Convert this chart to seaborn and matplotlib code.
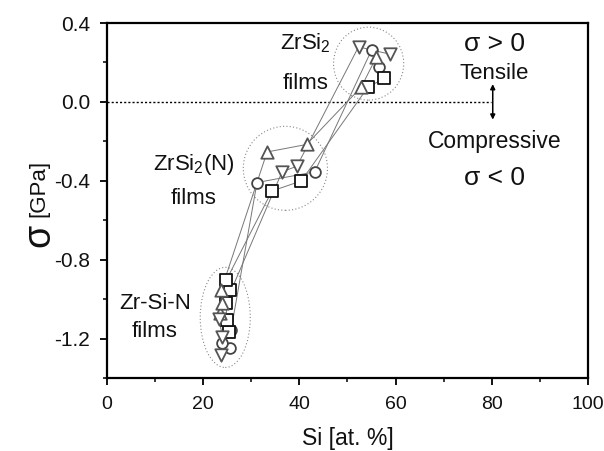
import matplotlib
matplotlib.use("Agg")
import matplotlib.pyplot as plt
import seaborn as sns
import pandas as pd
from matplotlib.patches import Ellipse

# ---- data ----
circle_x = [25.5, 23.9, 25.8, 31.2, 43.2, 55.0, 56.5]
circle_y = [-1.247, -1.223, -1.159, -0.409, -0.355, 0.262, 0.178]

square_x = [25.3, 24.9, 24.8, 25.6, 24.8, 34.3, 40.4, 54.3, 57.7]
square_y = [-1.168, -1.105, -1.020, -0.956, -0.905, -0.452, -0.401, 0.076, 0.119]

uptri_x = [23.6, 24.0, 23.8, 33.3, 41.5, 52.9, 56.0]
uptri_y = [-1.07, -1.02, -0.952, -0.254, -0.216, 0.076, 0.227]

dntri_x = [23.7, 24.0, 23.3, 36.4, 39.5, 52.3, 58.8]
dntri_y = [-1.286, -1.19, -1.10, -0.355, -0.326, 0.279, 0.242]

x_ticks = [0, 20, 40, 60, 80, 100]
y_ticks = [-1.2, -0.8, -0.4, 0.0, 0.4]
y_tick_labels = ["-1.2", "-0.8", "-0.4", "0.0", "0.4"]

sns.set_style("ticks")
plt.rcParams["font.family"] = ["Liberation Sans", "DejaVu Sans"]

fig = plt.figure(figsize=(6.04, 4.51), dpi=100)
ax = fig.add_axes([0.177, 0.162, 0.7965, 0.787])

series = [
    (circle_x, circle_y, "o", "#444444", 60),
    (square_x, square_y, "s", "#111111", 70),
    (uptri_x, uptri_y, "^", "#555555", 80),
    (dntri_x, dntri_y, "v", "#555555", 80),
]

for xs, ys, m, c, s in series:
    df = pd.DataFrame({"x": xs, "y": ys})
    sns.lineplot(data=df, x="x", y="y", sort=False, estimator=None,
                 color="#777777", lw=0.7, ax=ax, zorder=2)
for xs, ys, m, c, s in series:
    df = pd.DataFrame({"x": xs, "y": ys})
    sns.scatterplot(data=df, x="x", y="y", marker=m, s=s, facecolor="white",
                    edgecolor=c, linewidth=1.3, ax=ax, zorder=3)

# dotted ellipses
for cx, cy, w, h in [(24.6, -1.093, 10.4, 0.508),
                     (37.1, -0.337, 17.5, 0.426),
                     (54.4, 0.194, 14.6, 0.37)]:
    ax.add_patch(Ellipse((cx, cy), w, h, fill=False, ls=(0, (1, 2)),
                         lw=0.8, edgecolor="#888888", zorder=1))

# zero line
ax.plot([0, 79.8], [0, 0], ls=(0, (1.5, 1.5)), color="black", lw=1.0, zorder=1)
ax.annotate("", xy=(80.2, -0.09), xytext=(80.2, 0.09),
            arrowprops=dict(arrowstyle="<|-|>", lw=1.1, color="black",
                            mutation_scale=7, shrinkA=0, shrinkB=0))

# annotations
tc = "#111111"
ax.text(80.6, 0.295, "σ > 0", ha="center", va="center", fontsize=19, color=tc)
ax.text(80.6, 0.145, "Tensile", ha="center", va="center", fontsize=16, color=tc)
ax.text(80.6, -0.20, "Compressive", ha="center", va="center", fontsize=16.5, color=tc)
ax.text(80.6, -0.385, "σ < 0", ha="center", va="center", fontsize=19, color=tc)

ax.text(41.3, 0.30, "ZrSi$_\\mathregular{2}$", ha="center", va="center", fontsize=16, color=tc)
ax.text(41.3, 0.095, "films", ha="center", va="center", fontsize=16, color=tc)
ax.text(18.0, -0.32, "ZrSi$_\\mathregular{2}$(N)", ha="center", va="center", fontsize=16, color=tc)
ax.text(18.0, -0.49, "films", ha="center", va="center", fontsize=16, color=tc)
ax.text(10.0, -1.02, "Zr-Si-N", ha="center", va="center", fontsize=16, color=tc)
ax.text(10.0, -1.164, "films", ha="center", va="center", fontsize=16, color=tc)

ax.set_xlim(0, 100)
ax.set_ylim(-1.4, 0.4)
ax.set_xticks(x_ticks)
ax.set_xticks(range(10, 100, 20), minor=True)
ax.set_yticks(y_ticks)
ax.set_yticklabels(y_tick_labels)
ax.set_yticks([-1.4, -1.0, -0.6, -0.2, 0.2], minor=True)
ax.tick_params(axis="both", which="major", direction="out", length=5, width=1.3,
               colors="black", labelcolor=tc)
ax.tick_params(axis="y", which="major", pad=7, labelsize=15)
ax.tick_params(axis="x", which="major", pad=8, labelsize=14)
ax.tick_params(axis="both", which="minor", direction="out", length=3, width=1.3)
ax.tick_params(top=False, right=False)
for sp in ax.spines.values():
    sp.set_visible(True)
    sp.set_linewidth(1.6)
    sp.set_color("black")

ax.set_xlabel("Si [at. %]", fontsize=16.5, labelpad=10, color=tc)
ax.set_ylabel("")
fig.text(0.065, 0.479, "σ", rotation=90, fontsize=27, ha="center", va="center", color=tc)
fig.text(0.065, 0.582, "[GPa]", rotation=90, fontsize=16, ha="center", va="center", color=tc)

fig.savefig("out.png", dpi=100)
